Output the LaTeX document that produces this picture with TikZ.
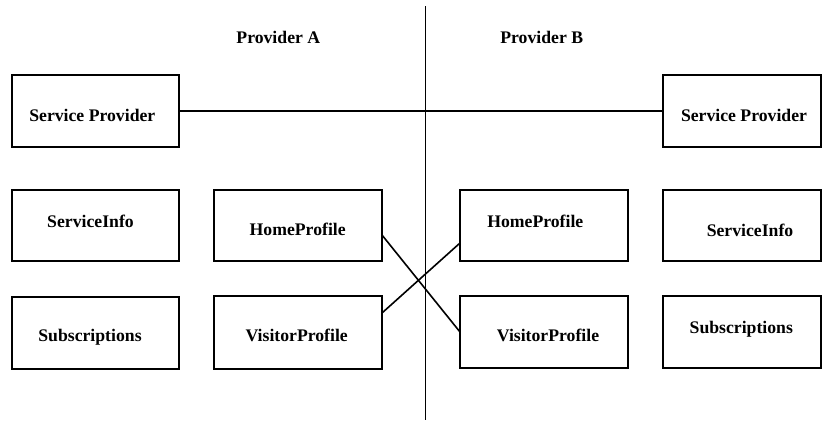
\documentclass[tikz,border=0pt]{standalone}
\usepackage{fontspec}
\setmainfont{Liberation Serif}
\begin{document}
\begin{tikzpicture}[x=1pt,y=-1pt,
  box/.style={draw,line width=1.6pt,inner sep=0pt,outer sep=0pt},
  lbl/.style={inner sep=0pt,anchor=base,font=\bfseries\fontsize{17.7}{20}\selectfont},
  wire/.style={line width=1.6pt}]
\useasboundingbox (0,0) rectangle (822,421);

% Provider A side
\node[box,minimum width=167pt,minimum height=72pt] (lsp)   at (95.5,111)   {};
\node[box,minimum width=167pt,minimum height=71pt] (lsi)   at (95.5,225.5) {};
\node[box,minimum width=168pt,minimum height=71pt] (lhome) at (298,225.5)  {};
\node[box,minimum width=167pt,minimum height=72pt] (lsub)  at (95.5,333)   {};
\node[box,minimum width=168pt,minimum height=73pt] (lvis)  at (298,332.5)  {};

% Provider B side
\node[box,minimum width=158pt,minimum height=72pt] (rsp)   at (742,111)    {};
\node[box,minimum width=168pt,minimum height=71pt] (rhome) at (544,225.5)  {};
\node[box,minimum width=158pt,minimum height=71pt] (rsi)   at (742,225.5)  {};
\node[box,minimum width=168pt,minimum height=72pt] (rvis)  at (544,332)    {};
\node[box,minimum width=158pt,minimum height=72pt] (rsub)  at (742,332)    {};

% Labels
\node[lbl] (tA)     at (278.3,43)   {Provider A};
\node[lbl] (tB)     at (541.7,43)   {Provider B};
\node[lbl] (tlsp)   at (92.3,121.5) {Service Provider};
\node[lbl] (trsp)   at (744,121.5)  {Service Provider};
\node[lbl] (tlsi)   at (90.5,227)   {ServiceInfo};
\node[lbl] (tlhome) at (297.7,235)  {HomeProfile};
\node[lbl] (tlsub)  at (90,341)     {Subscriptions};
\node[lbl] (tlvis)  at (296.7,341.5){VisitorProfile};
\node[lbl] (trhome) at (535.3,227.5){HomeProfile};
\node[lbl] (trsi)   at (750,236)    {ServiceInfo};
\node[lbl] (trvis)  at (548,341.5)  {VisitorProfile};
\node[lbl] (trsub)  at (741.3,333)  {Subscriptions};

% Divider between the two providers
\coordinate (divtop) at (425.5,6);
\coordinate (divbot) at (425.5,420);
\draw[wire] (divtop) -- (divbot);

% Connectors
\draw[wire] (lsp.east) -- (rsp.west);
\draw[wire] ([yshift=-9.5pt]lhome.east) -- (rvis.west);
\draw[wire] ([yshift=19.5pt]lvis.east) -- ([yshift=-17.5pt]rhome.west);
\end{tikzpicture}
\end{document}
